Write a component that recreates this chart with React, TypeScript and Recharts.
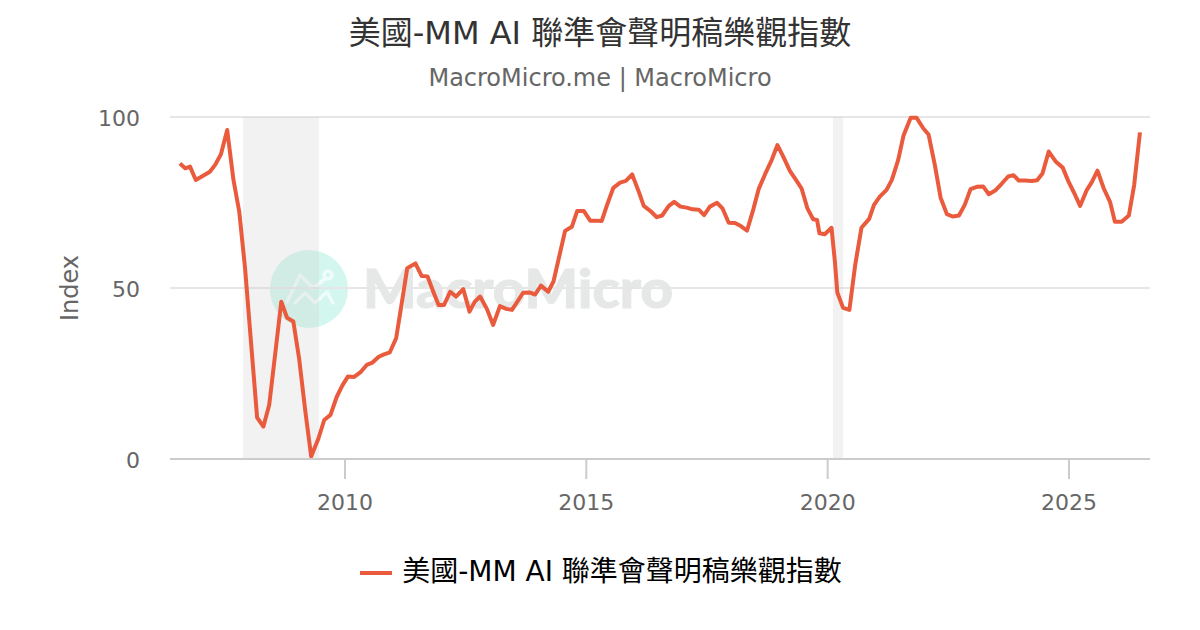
import {
  LineChart,
  Line,
  XAxis,
  YAxis,
  CartesianGrid,
  ReferenceArea,
  Legend,
} from "recharts";

const TITLE = "美國-MM AI 聯準會聲明稿樂觀指數";
const SUBTITLE = "MacroMicro.me | MacroMicro";

const YEARS = [
  2006.58, 2006.69, 2006.79, 2006.91, 2007.06, 2007.2, 2007.31, 2007.43, 2007.56, 2007.69,
  2007.81, 2007.93, 2008.06, 2008.18, 2008.31, 2008.43, 2008.56, 2008.68, 2008.8, 2008.93,
  2009.05, 2009.18, 2009.3, 2009.45, 2009.57, 2009.7, 2009.83, 2009.95, 2010.06, 2010.19,
  2010.33, 2010.45, 2010.57, 2010.7, 2010.81, 2010.93, 2011.06, 2011.17, 2011.29, 2011.46,
  2011.59, 2011.71, 2011.83, 2011.94, 2012.05, 2012.18, 2012.3, 2012.45, 2012.58, 2012.69,
  2012.8, 2012.94, 2013.07, 2013.21, 2013.34, 2013.46, 2013.58, 2013.69, 2013.82, 2013.94,
  2014.06, 2014.21, 2014.32, 2014.43, 2014.56, 2014.7, 2014.81, 2014.95, 2015.08, 2015.2,
  2015.32, 2015.43, 2015.56, 2015.7, 2015.82, 2015.95, 2016.08, 2016.19, 2016.33, 2016.46,
  2016.57, 2016.71, 2016.82, 2016.95, 2017.08, 2017.2, 2017.33, 2017.44, 2017.56, 2017.71,
  2017.82, 2017.95, 2018.08, 2018.2, 2018.33, 2018.46, 2018.57, 2018.71, 2018.84, 2018.96,
  2019.08, 2019.22, 2019.34, 2019.46, 2019.58, 2019.7, 2019.78, 2019.83, 2019.94, 2020.08,
  2020.15, 2020.2, 2020.32, 2020.45, 2020.57, 2020.7, 2020.86, 2020.96, 2021.08, 2021.22,
  2021.33, 2021.46, 2021.57, 2021.72, 2021.84, 2021.98, 2022.09, 2022.22, 2022.34, 2022.47,
  2022.59, 2022.72, 2022.84, 2022.96, 2023.09, 2023.22, 2023.34, 2023.47, 2023.6, 2023.74,
  2023.85, 2023.96, 2024.09, 2024.23, 2024.34, 2024.45, 2024.58, 2024.73, 2024.87, 2024.99,
  2025.11, 2025.23, 2025.37, 2025.47, 2025.59, 2025.72, 2025.85, 2025.95, 2026.09, 2026.24,
  2026.35, 2026.47,
];

const VALUES = [
  86.4, 85.0, 85.5, 81.6, 82.8, 84.0, 86.0, 89.1, 96.2, 81.6,
  72.3, 55.8, 33.0, 12.1, 9.5, 15.8, 31.4, 46.0, 41.3, 40.2,
  29.4, 13.8, 0.7, 6.0, 11.4, 12.9, 18.2, 21.6, 24.1, 24.0,
  25.5, 27.5, 28.2, 29.9, 30.6, 31.2, 35.3, 45.0, 55.8, 57.2,
  53.5, 53.4, 48.9, 45.0, 45.0, 48.9, 47.5, 49.7, 43.1, 46.0,
  47.5, 43.9, 39.2, 44.7, 43.9, 43.6, 46.2, 48.6, 48.7, 48.1,
  50.7, 48.9, 51.9, 58.7, 66.7, 67.9, 72.5, 72.5, 69.7, 69.7,
  69.6, 74.3, 79.3, 80.8, 81.3, 83.2, 78.4, 74.0, 72.5, 70.7,
  71.2, 74.0, 75.2, 73.8, 73.5, 73.0, 72.9, 71.3, 73.8, 74.9,
  73.3, 69.1, 69.0, 68.1, 66.8, 73.0, 78.9, 83.5, 87.4, 91.8,
  88.4, 84.2, 81.7, 79.1, 73.3, 70.1, 69.9, 66.0, 65.7, 67.6,
  57.7, 48.7, 44.2, 43.6, 56.7, 67.6, 70.2, 74.3, 76.7, 78.7,
  81.6, 87.4, 94.5, 99.8, 99.8, 96.7, 94.9, 86.0, 76.4, 71.6,
  70.9, 71.2, 74.3, 78.9, 79.6, 79.7, 77.4, 78.5, 80.4, 82.6,
  83.0, 81.4, 81.4, 81.3, 81.5, 83.5, 89.9, 86.9, 85.2, 81.1,
  77.7, 74.0, 78.7, 80.9, 84.3, 79.1, 75.2, 69.4, 69.4, 71.2,
  80.1, 95.5,
];

const X_TICKS = [2010, 2015, 2020, 2025];
const Y_TICKS = [0, 50, 100];
const RECESSIONS = [
  [2007.89, 2009.46],
  [2020.11, 2020.32],
];

const FONT = '"DejaVu Sans", "Noto Sans CJK TC", sans-serif';

const chartData = YEARS.map((year, i) => ({ year, value: VALUES[i] }));

export default function App() {
  return (
    <div
      style={{
        position: "absolute",
        left: 0,
        top: 0,
        width: 1200,
        height: 630,
        background: "#fff",
        fontFamily: FONT,
        overflow: "hidden",
      }}
    >
      {/* Title row */}
      <div style={{ position: "absolute", top: 11, width: 1200, textAlign: "center", fontSize: 32, lineHeight: "44px", color: "#333" }}>
        {TITLE}
      </div>
      <div style={{ position: "absolute", top: 61, width: 1200, textAlign: "center", fontSize: 24, lineHeight: "34px", color: "#666" }}>
        {SUBTITLE}
      </div>

      {/* Watermark */}
      <svg width={1200} height={630} style={{ position: "absolute", left: 0, top: 0 }}>
        <circle cx={309} cy={289} r={39} fill="#d3f7ee" />
        <g fill="none" stroke="#fff" strokeWidth={3.5} strokeLinecap="round" strokeLinejoin="round" opacity={0.65}>
          <polyline points="287,302 300,275 313,288 325,279" />
          <polyline points="295,303 305,293 315,303 327,292 333,303" />
          <circle cx={328} cy={275} r={4} />
        </g>
        <text
          x={363}
          y={308}
          fontFamily="Lato"
          fontWeight={900}
          fontSize={53}
          fill="#e6e8e8"
          stroke="#e6e8e8"
          strokeWidth={1}
          textLength={310}
          lengthAdjust="spacingAndGlyphs"
        >
          MacroMicro
        </text>
      </svg>

      <div style={{ position: "absolute", left: 0, top: 0 }}>
        <LineChart
          width={1200}
          height={630}
          data={chartData}
          margin={{ top: 117, right: 50, left: 0, bottom: 0 }}
        >
          <CartesianGrid horizontal vertical={false} stroke="#e6e6e6" strokeWidth={2} />
          {RECESSIONS.map(([from, to]) => (
            <ReferenceArea key={from} x1={from} x2={to} fill="#cccccc" fillOpacity={0.25} stroke="none" />
          ))}
          <XAxis
            type="number"
            dataKey="year"
            domain={[2006.375, 2026.678]}
            ticks={X_TICKS}
            allowDataOverflow
            height={60}
            tick={{ fill: "#666", fontSize: 22, fontFamily: FONT }}
            tickLine={{ stroke: "#cccccc", strokeWidth: 2 }}
            axisLine={{ stroke: "#cccccc", strokeWidth: 2 }}
            tickSize={20}
            tickMargin={15}
          />
          <YAxis
            type="number"
            domain={[0, 100]}
            ticks={Y_TICKS}
            width={170}
            tick={{ fill: "#666", fontSize: 22, fontFamily: FONT, dy: 1 }}
            tickLine={false}
            axisLine={false}
            tickMargin={24}
            label={{
              value: "Index",
              angle: -90,
              position: "insideLeft",
              offset: 69,
              style: { fill: "#666", fontSize: 24, fontFamily: FONT, textAnchor: "middle" },
            }}
          />
          <Legend
            verticalAlign="bottom"
            height={81}
            iconType="plainline"
            iconSize={32}
            wrapperStyle={{ fontSize: 28, fontFamily: FONT, left: 6, width: 1200, paddingTop: 30 }}
            formatter={(name) => <span style={{ color: "#000", marginLeft: 6 }}>{name}</span>}
          />
          <Line
            dataKey="value"
            name={TITLE}
            stroke="#ea5b3d"
            strokeWidth={4}
            strokeLinejoin="round"
            dot={false}
            activeDot={false}
            isAnimationActive={false}
          />
        </LineChart>
      </div>
    </div>
  );
}
